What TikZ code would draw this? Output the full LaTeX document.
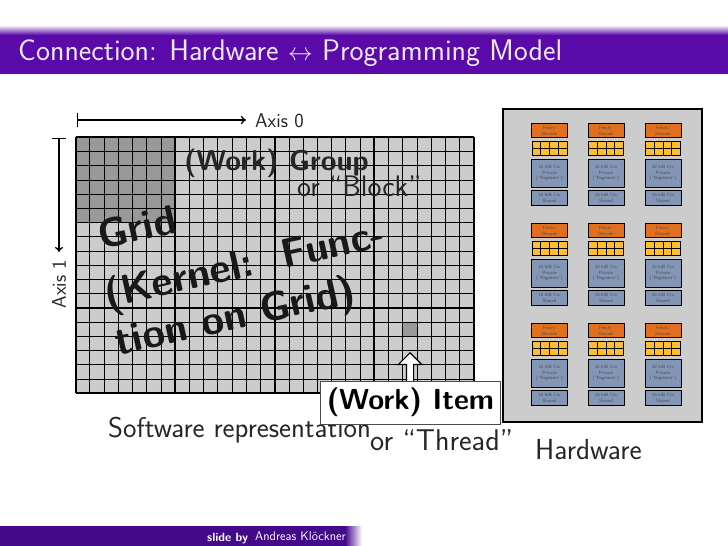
\documentclass[tikz,border=0pt]{standalone}
\usepackage{fontspec}
\usetikzlibrary{shapes.arrows,arrows.meta}
\definecolor{titlepurple}{HTML}{5A0AA8}
\definecolor{footpurple}{HTML}{43098A}
\definecolor{gridgray}{HTML}{CCCCCC}
\definecolor{blockgray}{HTML}{999999}
\definecolor{fetchorange}{HTML}{E0701F}
\definecolor{regyellow}{HTML}{FFBE2E}
\definecolor{ctxblue}{HTML}{8496B6}
\newcommand{\sz}[1]{\sffamily\fontsize{#1}{#1}\selectfont}
\tikzset{
  lbl/.style={inner sep=0pt, anchor=base west},
  bigbold/.style={font=\sz{28.7}\bfseries, inner sep=0pt},
  rotbold/.style={font=\sz{41}\bfseries, inner sep=0pt, rotate=12.5, text=black!90},
  hwbox/.style={draw=black, line width=0.9pt, minimum width=36pt, inner sep=0pt, align=center, font=\sz{4.6}, text=black!70},
}
\begin{document}
\begin{tikzpicture}[x=1pt,y=-1pt]
      \useasboundingbox (0,0) rectangle (728,546);
      % title and footer bars
      \shade[top color=white, bottom color=titlepurple] (0,25) rectangle (728,35);
      \fill[titlepurple] (0,35) rectangle (728,74);
      \fill[footpurple] (0,526) rectangle (345,546);
      \shade[left color=footpurple, right color=white] (345,526) rectangle (362,546);
      \node[lbl, font=\sz{29.8}, text=white!90!titlepurple] (title) at (18,60) {Connection: Hardware $\leftrightarrow$ Programming Model};
      \node[lbl, font=\sz{12}\bfseries, text=white] (slideby) at (207,541) {slide by};
      \node[lbl, font=\sz{12.6}, text=white] (author) at (255,540) {Andreas Klöckner};

      % software grid
      \fill[gridgray] (75.7,137.3) rectangle (474,392.7);
      \fill[blockgray] (75.7,137.3) rectangle (175,222);
      \fill[blockgray] (403,323) rectangle (417,337);
      \begin{scope}[shift={(75.7,137.3)}, x=14.22pt, y=-14.22pt]
        \foreach \bx in {0,...,28}
          \draw[line width=0.9pt] (\bx,0) -- (\bx,18);
        \foreach \by in {0,...,18}
          \draw[line width=0.9pt] (0,\by) -- (28,\by);
        \foreach \bx in {0,7,...,28}
          \draw[line width=1.7pt] (\bx,0) -- (\bx,18);
        \foreach \by in {0,6,...,18}
          \draw[line width=1.7pt] (0,\by) -- (28,\by);
      \end{scope}

      % axes
      \coordinate (axiszero) at (76.5,120);
      \coordinate (axisone) at (59,138);
      \node[lbl, font=\sz{20}, anchor=west, text=black!85] (axiszerolbl) at (255,121) {Axis 0};
      \node[font=\sz{20}, rotate=90, inner sep=0pt, text=black!85] (axisonelbl) at (59,284) {Axis 1};
      \draw[line width=1.3pt, {Bar[width=14pt]}-{To[length=5pt,width=8pt]}] (axiszero) -- (246,120);
      \draw[line width=1.3pt, {Bar[width=14pt]}-{To[length=5pt,width=8pt]}] (axisone) -- (59,252);

      % texts on the grid
      \node[bigbold, lbl, text=black!85] (group) at (184,170) {(Work) Group};
      \node[lbl, font=\sz{29.7}, text=black!85] (block) at (297,196) {or “Block”};
      \node[rotbold] (gridlbl) at (137,227) {Grid};
      \node[rotbold] (kernel) at (245,267) {(Kernel:\ \ Func-};
      \node[rotbold] (func) at (236,319) {tion on Grid)};

      % hardware
      \fill[gridgray, draw=black, line width=1.8pt] (503,109) rectangle (702,421.7);
      \foreach \col/\cx in {a/549.5,b/606,c/663} {
        \foreach \grp/\gy in {a/0,b/100,c/200} {
          \node[hwbox, fill=fetchorange, minimum height=14.4pt] (fetch\col\grp) at (\cx,130.5+\gy) {Fetch/\\[1pt]Decode};
          \fill[regyellow] (\cx-17.5,141+\gy) rectangle (\cx+17.5,155.7+\gy);
          \draw[line width=0.9pt] (\cx-17.5,141+\gy) rectangle (\cx+17.5,155.7+\gy);
          \draw[line width=0.9pt] (\cx-17.5,148.35+\gy) -- (\cx+17.5,148.35+\gy);
          \foreach \xs in {-8.75,0,8.75}
            \draw[line width=0.9pt] (\cx+\xs,141+\gy) -- (\cx+\xs,155.7+\gy);
          \node[hwbox, fill=ctxblue, minimum height=28.3pt] (priv\col\grp) at (\cx,173.2+\gy) {32 kiB Ctx\\[1pt]Private\\[1pt](“Registers”)};
          \node[hwbox, fill=ctxblue, minimum height=15.7pt] (shared\col\grp) at (\cx,197.8+\gy) {16 kiB Ctx\\[1pt]Shared};
        }
      }

      % bottom labels
      \node[lbl, font=\sz{28.6}, text=black!85] (softlbl) at (108,437) {Software representation};
      \node[lbl, font=\sz{30}, text=black!85] (threadlbl) at (370,450) {or “Thread”};
      \node[lbl, font=\sz{29}, text=black!85] (hardlbl) at (535,459) {Hardware};

      % work item callout
      \node[single arrow, shape border rotate=90, draw=black, fill=white, line width=1.2pt,
        minimum width=22pt, minimum height=34pt, inner sep=3pt, single arrow head extend=8pt,
        anchor=tip] (itemarrow) at (410,352) {};
      \node[draw=black!70, line width=1.1pt, fill=white, minimum width=180.7pt, minimum height=43.3pt,
        inner sep=0pt, font=\sz{29}\bfseries] (item) at (410.4,402.7) {(Work) Item};
    \end{tikzpicture}
\end{document}
